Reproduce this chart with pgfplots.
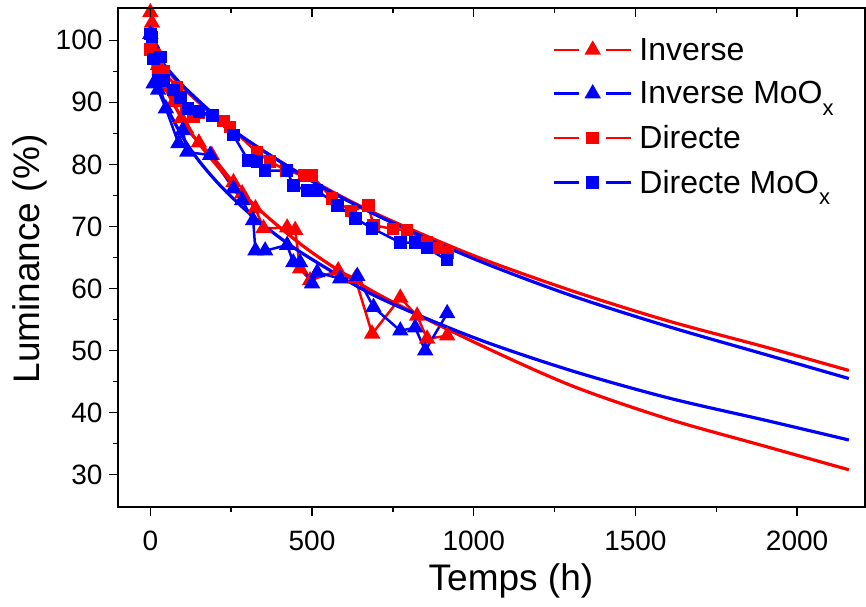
\documentclass[border=0pt]{standalone}
\usepackage{pgfplots}
\pgfplotsset{compat=1.18}
\usepackage{fontspec}
\setmainfont{Liberation Sans}
\definecolor{cred}{RGB}{255,0,0}
\definecolor{cblue}{RGB}{0,0,255}
\newcommand{\sub}{\smash{\raisebox{-0.36em}{\fontsize{22}{22}\selectfont x}}}
\begin{document}
\begin{tikzpicture}
\useasboundingbox (-118pt,-99pt) rectangle (748pt,507pt);
\begin{axis}[
  at={(0pt,0pt)}, anchor=south west,
  width=747pt, height=499pt, scale only axis,
  xmin=-100, xmax=2210, ymin=24.8, ymax=105.2,
  xtick={0,500,...,2000}, minor x tick num=1,
  ytick={30,40,...,100}, minor y tick num=1,
  xtick pos=left, ytick pos=left, tick align=outside,
  major tick length=9pt, minor tick length=5pt,
  axis line style={line width=1.5pt},
  every tick/.style={line width=1.5pt, black},
  tick label style={font=\fontsize{28}{31}\selectfont},
  xticklabel style={yshift=-11pt},
  yticklabel style={xshift=-3pt},
  /pgf/number format/assume math mode=true,
  /pgf/number format/1000 sep={},
  xlabel={Temps (h)}, ylabel={Luminance (\%)},
  label style={font=\fontsize{37}{42}\selectfont},
  x label style={at={(axis description cs:0.526,-0.148)}, anchor=center},
  y label style={at={(axis description cs:-0.118,0.497)}, anchor=center},
  legend cell align=left,
  legend style={at={(axis description cs:0.582,0.94)}, anchor=north west,
    draw=none, fill=none, inner sep=0pt, row sep=20pt,
    nodes={inner sep=0pt},
    /tikz/every odd column/.append style={column sep=7pt},
    font=\fontsize{32}{36}\selectfont},
  legend image code/.code={
    \draw[#1, dash pattern=on 25pt off 27pt on 40pt, mark repeat=2, mark phase=2]
      plot coordinates {(0pt,0pt) (38.5pt,0pt) (77pt,0pt)};
  },
  every axis plot/.append style={line width=2.5pt},
]
% ---------------- data ----------------
\addplot[cred, mark=triangle*, mark size=7pt, mark options={solid, fill=cred}] coordinates {
(0,104.5) (5,102.8) (10,99) (24,96) (48,92.5) (72,90) (96,87.4) (110,85.8)
(150,83.5) (190,81.5) (257,77.1) (284,75.3) (325,72.9) (350,69.7) (423,69.8)
(448,69.4) (463,63.2) (494,61.3) (581,62.9) (634,61.6) (686,52.7) (773,58.5)
(825,55.6) (856,51.9) (918,52.4)
};
\addlegendentry{Inverse}
\addplot[cblue, mark=triangle*, mark size=7pt, mark options={solid, fill=cblue}] coordinates {
(0,101) (5,99.5) (10,93) (24,92) (48,89) (87,83.4) (100,85.5) (114,82)
(185,81.5) (257,76.1) (284,74.2) (318,71) (325,66.1) (355,66.1) (423,67)
(442,64.2) (463,64.2) (500,60.8) (516,62.6) (587,61.6) (640,62) (690,57)
(773,53.2) (819,53.7) (850,50) (918,56)
};
\addlegendentry{Inverse MoO\sub}
\addplot[cred, mark=square*, mark size=5pt, mark options={solid, fill=cred}] coordinates {
(0,98.5) (10,97) (24,95.5) (40,95) (83,92.4) (110,89) (133,87.6) (150,88.4)
(226,87) (247,86) (330,81.9) (370,80.5) (420,79) (475,78.2) (500,78.2)
(562,74.5) (620,72.5) (674,73.4) (690,70.2) (750,69.6) (794,69.4) (856,67.4)
(890,66.5) (920,65.8)
};
\addlegendentry{Directe}
\addplot[cblue, mark=square*, mark size=5pt, mark options={solid, fill=cblue}] coordinates {
(0,101) (5,100.5) (10,97) (31,97.3) (40,93.5) (72,92) (93,90.8) (117,89)
(150,88.5) (192,87.9) (257,84.7) (303,80.6) (330,80.5) (355,79) (423,79)
(442,76.6) (485,75.8) (516,75.8) (578,73.4) (634,71.3) (686,69.7) (773,67.4)
(819,67.4) (856,66.5) (917,64.6)
};
\addlegendentry{Directe MoO\sub}
% ---------------- fits ----------------
\addplot[cred, line width=3.2pt, smooth, forget plot] coordinates {
(0,100) (10,98.6) (25,97.2) (50,95.4) (100,92.4) (200,87.7) (300,83.8) (500,77.4)
(700,72.0) (1000,65.3) (1300,59.7) (1600,54.8) (1900,50.6) (2160,46.8)
};
\addplot[cblue, line width=3.2pt, smooth, forget plot] coordinates {
(0,100) (10,98.7) (25,97.4) (50,95.6) (100,92.7) (200,87.9) (300,83.9) (500,77.3)
(700,71.8) (1000,64.8) (1300,58.9) (1600,53.9) (1900,49.4) (2160,45.5)
};
\addplot[cred, line width=3.2pt, smooth, forget plot] coordinates {
(0,100) (10,97.3) (25,94.9) (50,91.9) (100,87.2) (150,83.4) (238,77.9) (350,72.1)
(500,65.8) (700,59.2) (1000,51.4) (1300,44.4) (1600,39.0) (1900,34.6) (2160,30.8)
};
\addplot[cblue, line width=3.2pt, smooth, forget plot] coordinates {
(0,100) (10,95.7) (25,92.7) (50,89.3) (100,84.4) (150,80.6) (216,76.6) (300,72.4)
(400,68.2) (500,64.7) (700,58.7) (1000,52.1) (1300,46.8) (1600,42.4) (1900,38.8) (2160,35.6)
};
\end{axis}
\begin{axis}[
  at={(0pt,0pt)}, anchor=south west,
  width=747pt, height=499pt, scale only axis,
  xmin=-100, xmax=2210, ymin=24.8, ymax=105.2,
  axis x line*=top, hide y axis,
  xtick={0,500,...,2000}, minor x tick num=1,
  xticklabels={}, tick align=inside,
  major tick length=9pt, minor tick length=5pt,
  axis line style={line width=1.5pt, -},
  every tick/.style={line width=1.5pt, black},
]
\end{axis}
\end{tikzpicture}
\end{document}
